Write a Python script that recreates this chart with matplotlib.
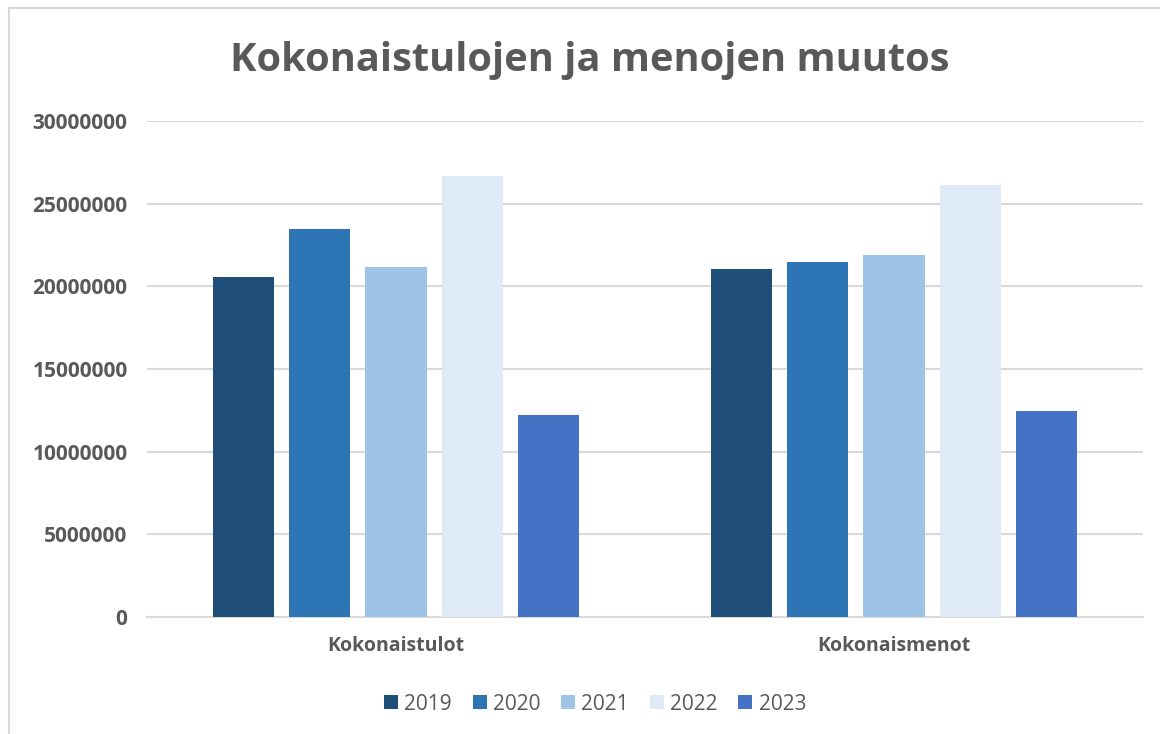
import numpy as np
import matplotlib
matplotlib.use("Agg")
import matplotlib.pyplot as plt
from matplotlib.lines import Line2D

plt.rcParams["font.family"] = ["Open Sans", "DejaVu Sans"]

categories = ["Kokonaistulot", "Kokonaismenot"]
years = ["2019", "2020", "2021", "2022", "2023"]
values = {
    "2019": [20550000, 21030000],
    "2020": [23470000, 21490000],
    "2021": [21170000, 21900000],
    "2022": [26690000, 26110000],
    "2023": [12200000, 12460000],
}
colors = ["#1F4E79", "#2E75B6", "#9DC3E6", "#DEEBF7", "#4472C4"]
text_gray = "#595959"
grid_gray = "#D9D9D9"

W, H = 1160, 734
fig = plt.figure(figsize=(W / 100, H / 100), dpi=100)
ax = fig.add_axes([147 / W, 1 - 617 / H, 996 / W, 496 / H])

x = np.arange(len(categories))
pitch = 0.1536
width = 0.1225
for i, (yr, c) in enumerate(zip(years, colors)):
    ax.bar(x + (i - 2) * pitch, values[yr], width, color=c, label=yr,
           zorder=3)

ax.set_xlim(-0.5, 1.5)
ax.set_ylim(0, 30000000)
ax.set_yticks(np.arange(0, 30000001, 5000000))
ax.set_yticklabels([f"{v:d}" for v in range(0, 30000001, 5000000)])
ax.set_xticks(x)
ax.set_xticklabels(categories)

ax.grid(axis="y", color=grid_gray, linewidth=1.5, zorder=0)
for s in ["top", "right", "left"]:
    ax.spines[s].set_visible(False)
ax.spines["bottom"].set_color(grid_gray)
ax.spines["bottom"].set_linewidth(1.5)
ax.tick_params(axis="both", length=0, colors=text_gray)
ax.tick_params(axis="y", pad=14, labelsize=15)
ax.tick_params(axis="x", pad=14, labelsize=14)
for lab in ax.get_yticklabels() + ax.get_xticklabels():
    lab.set_fontweight("bold")
    lab.set_color(text_gray)

fig.text(590 / W, 1 - 61 / H, "Kokonaistulojen ja menojen muutos",
         ha="center", va="center", fontsize=28.6, fontweight="bold",
         color=text_gray)

leg = fig.legend(loc="center", bbox_to_anchor=(595 / W, 1 - 704 / H),
                 ncol=5, frameon=False, fontsize=15, handlelength=0.67,
                 handleheight=0.67, handletextpad=0.3, columnspacing=1.0)
for t in leg.get_texts():
    t.set_color(text_gray)

# chart frame (left and top edges visible)
fig.add_artist(Line2D([9 / W, 9 / W], [0, 1 - 8 / H], color=grid_gray,
                      linewidth=1.5, transform=fig.transFigure))
fig.add_artist(Line2D([9 / W, 1], [1 - 8 / H, 1 - 8 / H], color=grid_gray,
                      linewidth=1.5, transform=fig.transFigure))

fig.savefig("out.png", dpi=100)
